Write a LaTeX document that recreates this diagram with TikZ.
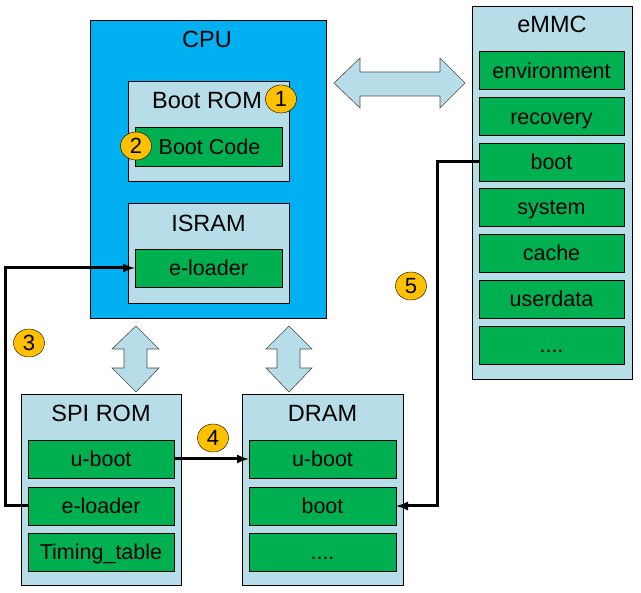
\documentclass[tikz,border=0pt]{standalone}
\usepackage{fontspec}
\setmainfont{Liberation Sans}
\usetikzlibrary{positioning, arrows, shapes}

\definecolor{cpublue}{RGB}{0,176,240}
\definecolor{memgray}{RGB}{183,222,232}
\definecolor{partgreen}{RGB}{0,176,80}
\definecolor{numgold}{RGB}{255,192,0}

\tikzset{
    cpubox/.style={draw, fill=cpublue, inner sep=0pt},
    membox/.style={draw, fill=memgray, inner sep=0pt},
    partbox/.style={draw, fill=partgreen, inner sep=0pt, minimum height=38pt,
        text height=17pt, text depth=1pt, font=\fontsize{21.5}{25}\selectfont},
    boxtitle/.style={inner sep=0pt, anchor=base, font=\fontsize{23.5}{28}\selectfont},
    stepnum/.style={draw, fill=numgold, ellipse, inner sep=0pt, minimum width=31pt,
        minimum height=28pt, font=\fontsize{22}{26}\selectfont},
    busarrow/.style={draw=black!70, fill=memgray, line width=0.6pt},
    conn/.style={line width=3pt, -latex}
}

\begin{document}
\begin{tikzpicture}[x=1pt, y=-1pt]
                \useasboundingbox (0,0) rectangle (641,593);

                % CPU
                \node[cpubox, minimum width=236pt, minimum height=298pt] (CPU) at (208, 169) {};
                \node[boxtitle] (CT) at (207, 48) {CPU};
                \node[membox, minimum width=161pt, minimum height=100pt] (BR) at (208.5, 131) {};
                \node[boxtitle] (BT) at (207, 109) {Boot ROM};
                \node[partbox, minimum width=147pt, minimum height=39pt] (BC) at (208.5, 146.5) {\hspace{2pt}Boot Code};
                \node[membox, minimum width=161pt, minimum height=100pt] (IS) at (208.5, 253) {};
                \node[boxtitle] (IT) at (208.5, 232) {ISRAM};
                \node[partbox, minimum width=147pt] (IE) at (208.5, 268) {e-loader};

                % SPI ROM
                \node[membox, minimum width=160pt, minimum height=191pt] (SPI) at (101, 489.5) {};
                \node[boxtitle] (ST) at (101, 422) {SPI ROM};
                \node[partbox, minimum width=146pt] (SU) at (101, 459) {u-boot};
                \node[partbox, minimum width=146pt] (SE) at (101, 506) {e-loader};
                \node[partbox, minimum width=146pt] (SX) at (101, 552) {Timing\_table};

                % DRAM
                \node[membox, minimum width=161pt, minimum height=191pt] (DR) at (322.5, 489.5) {};
                \node[boxtitle] (DT) at (322.5, 422) {DRAM};
                \node[partbox, minimum width=147pt] (DU) at (322.5, 459) {u-boot};
                \node[partbox, minimum width=147pt] (DB) at (322.5, 506) {boot};
                \node[partbox, minimum width=147pt] (DX) at (322.5, 552) {....};

                % eMMC
                \node[membox, minimum width=160pt, minimum height=373pt] (EM) at (552, 192.5) {};
                \node[boxtitle] (ET) at (552, 33) {eMMC};
                \node[partbox, minimum width=145pt] (EE) at (551.5, 70.5) {environment};
                \node[partbox, minimum width=145pt] (ER) at (551.5, 116.5) {recovery};
                \node[partbox, minimum width=145pt] (EB) at (551.5, 162) {boot};
                \node[partbox, minimum width=145pt] (ES) at (551.5, 207) {system};
                \node[partbox, minimum width=145pt] (EC) at (551.5, 253) {cache};
                \node[partbox, minimum width=145pt] (EU) at (551.5, 299) {userdata};
                \node[partbox, minimum width=145pt] (EX) at (551.5, 345) {....};

                % bus arrows
                \draw[busarrow] (334, 83) -- (360, 58) -- (360, 72) -- (440, 72) -- (440, 58) -- (465, 83)
                    -- (440, 108) -- (440, 96) -- (360, 96) -- (360, 108) -- cycle;
                \draw[busarrow] (136, 326) -- (159, 349) -- (147, 349) -- (147, 368) -- (159, 368) -- (136, 392)
                    -- (112, 368) -- (124, 368) -- (124, 349) -- (112, 349) -- cycle;
                \draw[busarrow] (289, 326) -- (312, 349) -- (300, 349) -- (300, 368) -- (312, 368) -- (289, 392)
                    -- (266, 368) -- (277, 368) -- (277, 349) -- (266, 349) -- cycle;

                % boot flow
                \coordinate (C3) at (5, 268);
                \coordinate (C5) at (437, 162);
                \draw[conn] (SE.west) -| (C3) -- (IE.west);
                \draw[conn] (SU.east) -- (DU.west);
                \draw[conn] (EB.west) -- (C5) |- (DB.east);

                % step numbers
                \node[stepnum] (N1) at (281, 99) {1};
                \node[stepnum] (N2) at (136, 146) {2};
                \node[stepnum] (N3) at (29, 343) {3};
                \node[stepnum] (N4) at (213, 438) {4};
                \node[stepnum] (N5) at (411, 286) {5};
            \end{tikzpicture}
\end{document}
